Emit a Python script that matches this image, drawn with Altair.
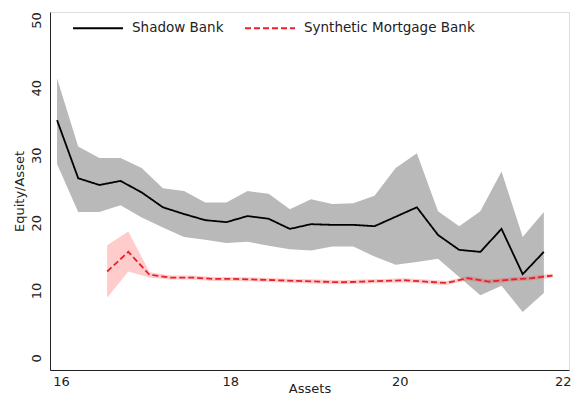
import altair as alt
import pandas as pd

# Shadow Bank (black line, gray band)
sb_x = [15.953 + 0.25 * i for i in range(24)]
sb_mid = [35.2, 26.6, 25.6, 26.2, 24.5, 22.3, 21.3, 20.4, 20.1, 21.0, 20.6, 19.1,
          19.8, 19.7, 19.7, 19.5, 20.9, 22.3, 18.2, 16.0, 15.7, 19.1, 12.4, 15.7]
sb_hi = [41.4, 31.3, 29.6, 29.6, 28.1, 25.1, 24.7, 23.0, 23.0, 24.7, 24.3, 22.0,
         23.5, 22.8, 22.9, 24.0, 28.1, 30.3, 21.7, 19.5, 21.7, 27.6, 17.9, 21.6]
sb_lo = [28.7, 21.6, 21.6, 22.6, 20.8, 19.3, 17.9, 17.5, 17.0, 17.2, 16.6, 16.1,
         15.9, 16.5, 16.5, 15.0, 13.8, 14.2, 14.7, 12.0, 9.3, 10.7, 6.8, 9.6]

# Synthetic Mortgage Bank (red dashed line, pink band)
smb_x = [16.545 + 0.2505 * i for i in range(22)]
smb_mid = [12.8, 15.7, 12.3, 11.9, 11.9, 11.7, 11.7, 11.6, 11.5, 11.4, 11.3, 11.2,
           11.3, 11.4, 11.5, 11.3, 11.1, 11.8, 11.3, 11.6, 11.8, 12.2]
smb_hi = [16.7, 18.7, 12.7, 12.2, 12.2, 12.0, 12.0, 11.9, 11.8, 11.7, 11.6, 11.5,
          11.6, 11.7, 11.8, 11.6, 11.4, 12.1, 11.6, 11.9, 12.1, 12.5]
smb_lo = [8.9, 12.8, 11.9, 11.6, 11.6, 11.4, 11.4, 11.3, 11.2, 11.1, 11.0, 10.9,
          11.0, 11.1, 11.2, 11.0, 10.8, 11.5, 11.0, 11.3, 11.5, 11.9]

series = ["Shadow Bank", "Synthetic Mortgage Bank"]
x_ticks = [16, 18, 20, 22]
y_ticks = [0, 10, 20, 30, 40, 50]

sb = pd.DataFrame({"x": sb_x, "y": sb_mid, "lo": sb_lo, "hi": sb_hi, "s": series[0]})
smb = pd.DataFrame({"x": smb_x, "y": smb_mid, "lo": smb_lo, "hi": smb_hi, "s": series[1]})
df = pd.concat([sb, smb], ignore_index=True)

FONT = "DejaVu Sans"
xs = alt.Scale(domain=[15.87, 22.0], nice=False, zero=False)
ys = alt.Scale(domain=[-1.78, 51.2], nice=False, zero=False)

xax = alt.Axis(values=x_ticks, format="d", title="Assets", ticks=False, grid=False, labelPadding=5,
               labelFlush=True, labelFlushOffset=2,
               labelFontSize=13, titleFontSize=13, titleFontWeight="normal",
               labelColor="#222", titleColor="#222", domainColor="#222",
               titleY=22, titleBaseline="alphabetic",
               labelFont=FONT, titleFont=FONT)
yax = alt.Axis(values=y_ticks, format="d", title="Equity/Asset", ticks=False, grid=False, labelPadding=7,
               labelAngle=270, labelAlign="center", labelBaseline="bottom",
               labelFontSize=13, titleFontSize=13, titleFontWeight="normal",
               labelColor="#222", titleColor="#222", domainColor="#222", titlePadding=4,
               labelFont=FONT, titleFont=FONT)

legend_kw = dict(title=None, orient="none", legendX=22, legendY=-10,
                 direction="horizontal", symbolType="stroke",
                 symbolSize=2500, symbolStrokeWidth=1.8,
                 labelFontSize=13.5, labelFont=FONT, labelColor="#222", labelLimit=0,
                 labelOffset=8, columnPadding=17, padding=0)

band_sb = alt.Chart(sb).mark_area(color="#b9b9b9", opacity=1).encode(
    x=alt.X("x:Q", scale=xs, axis=xax), y=alt.Y("lo:Q", scale=ys, axis=yax), y2="hi:Q")
band_smb = alt.Chart(smb).mark_area(color="#ff3030", opacity=0.25).encode(
    x=alt.X("x:Q", scale=xs), y=alt.Y("lo:Q", scale=ys), y2="hi:Q")

lines = alt.Chart(df).mark_line(strokeWidth=1.8).encode(
    x=alt.X("x:Q", scale=xs),
    y=alt.Y("y:Q", scale=ys),
    color=alt.Color("s:N", scale=alt.Scale(domain=series, range=["#000000", "#e8202a"]),
                    legend=alt.Legend(**legend_kw)),
    strokeDash=alt.StrokeDash("s:N", scale=alt.Scale(domain=series, range=[[1, 0], [6, 3]]),
                              legend=alt.Legend(**legend_kw)),
)

chart = alt.layer(band_sb, band_smb, lines).properties(
    width=519, height=358,
    autosize=alt.AutoSizeParams(type="none"),
    padding={"left": 42, "top": 4, "right": 3, "bottom": 26},
).configure_view(stroke="#888888", strokeWidth=1.2).configure(background="white")

chart.save("out.html", embed_options={"renderer": "svg", "actions": False})
